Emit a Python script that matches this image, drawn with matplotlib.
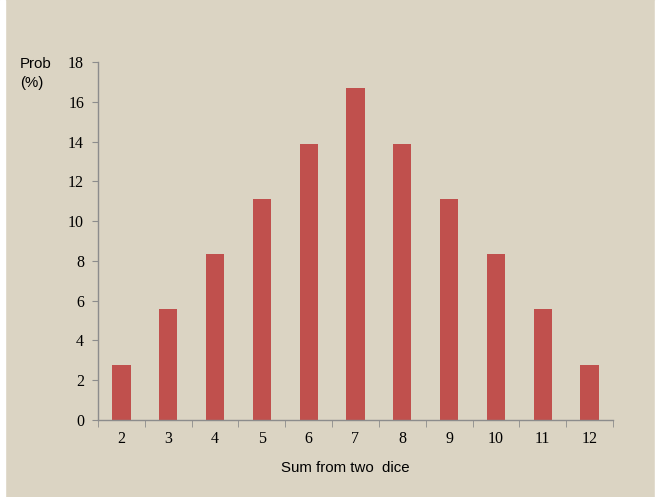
import matplotlib
matplotlib.use("Agg")
import matplotlib.pyplot as plt
import matplotlib.patches as mpatches

# ---- data: probability (%) of each sum from two dice
sums = [2, 3, 4, 5, 6, 7, 8, 9, 10, 11, 12]
prob = [2.78, 5.56, 8.33, 11.11, 13.89, 16.67, 13.89, 11.11, 8.33, 5.56, 2.78]
y_ticks = [0, 2, 4, 6, 8, 10, 12, 14, 16, 18]

bg = "#dbd4c3"
bar_col = "#c0504d"
axis_col = "#8c8c8c"

fig = plt.figure(figsize=(6.59, 4.97), dpi=100, facecolor=bg)
# thin white edge strips as in the reference
fig.patches.append(mpatches.Rectangle((0, 0), 5 / 659, 1, transform=fig.transFigure,
                                      color="white", zorder=-1))
fig.patches.append(mpatches.Rectangle((1 - 4 / 659, 0), 4 / 659, 1, transform=fig.transFigure,
                                      color="white", zorder=-1))

ax = fig.add_axes([98 / 659, 1 - 420 / 497, (613 - 98) / 659, (420 - 62) / 497])
ax.set_facecolor("none")

x = list(range(len(sums)))
ax.bar(x, prob, width=0.39, color=bar_col)

ax.set_xlim(-0.5, len(sums) - 0.5)
ax.set_ylim(0, 18)
ax.set_yticks(y_ticks)
ax.set_yticklabels([str(v) for v in y_ticks], family="Liberation Serif", fontsize=11.5)

# category labels centred, tick marks on the boundaries
ax.set_xticks(x)
ax.set_xticklabels([str(s) for s in sums], family="Liberation Serif", fontsize=11.5)
ax.tick_params(axis="x", which="major", length=0, pad=8)
ax.set_xticks([i - 0.5 for i in range(len(sums) + 1)], minor=True)
ax.tick_params(axis="x", which="minor", length=5, color=axis_col, direction="out")
ax.tick_params(axis="y", length=4, color=axis_col, direction="out", pad=6)

for side in ["top", "right"]:
    ax.spines[side].set_visible(False)
for side in ["left", "bottom"]:
    ax.spines[side].set_color(axis_col)
    ax.spines[side].set_linewidth(1.0)

fig.text(20 / 659, 1 - 73.5 / 497, "Prob\n(%)", family="Liberation Sans", fontsize=10.8,
         ha="left", va="center", linespacing=1.5)
fig.text(345 / 659, 1 - 468 / 497, "Sum from two  dice", family="Liberation Sans",
         fontsize=10.8, ha="center", va="center")

fig.savefig("out.png", dpi=100, facecolor=bg)
